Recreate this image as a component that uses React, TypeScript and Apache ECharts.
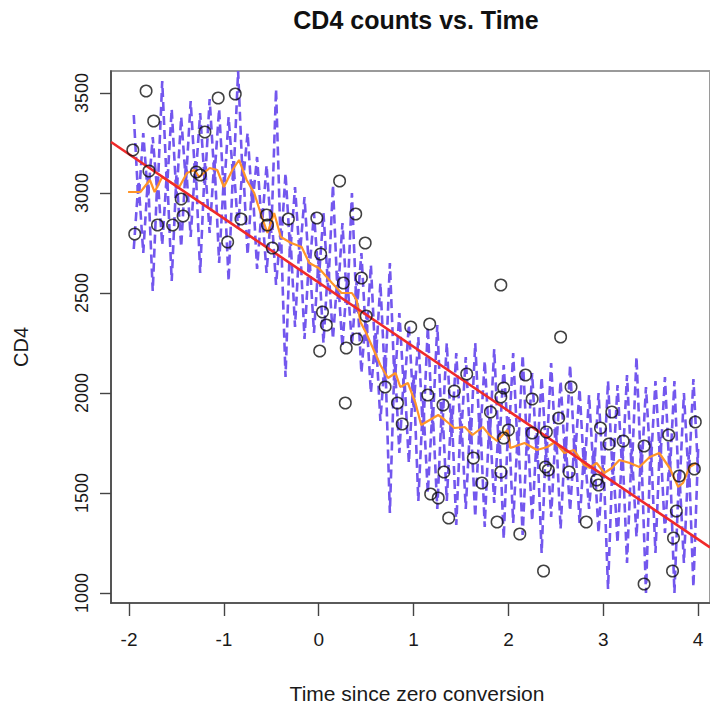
import React, { useEffect, useRef } from "react";
import * as echarts from "echarts";

// Observations: time since zero conversion and CD4 count
const obsTime = [
  -1.96, -1.94, -1.82, -1.74, -1.79, -1.7, -1.54, -1.45, -1.43, -1.29, -1.25, -1.2,
  -1.06, -0.88, -0.96, -0.82, -0.55, -0.54, -0.49, -0.32, -0.02, 0.22, 0.39, 0.49,
  0.02, 0.26, 0.45, 0.04, 0.08, 0.5, 0.4, 0.29, 0.01, 0.97, 1.17, 1.92, 0.28, 0.7,
  0.83, 1.15, 0.88, 1.43, 1.56, 1.31, 1.95, 1.92, 1.81, 1.95, 2.0, 2.55, 2.18, 2.25,
  2.66, 2.53, 3.09, 2.97, 2.25, 2.4, 3.97, 3.69, 3.21, 3.06, 3.43, 1.92, 2.39, 2.42,
  2.64, 2.93, 2.95, 3.8, 3.96, 3.77, 3.74, 1.88, 2.12, 2.82, 2.37, 3.73, 3.43, 1.32,
  1.63, 1.72, 1.18, 1.26, 1.37,
];
const obsCD4 = [
  3215, 2795, 3510, 3360, 3110, 2840, 2840, 2970, 2885, 3105, 3090, 3305,
  3475, 3495, 2755, 2870, 2890, 2840, 2725, 2870, 2875, 3060, 2895, 2750,
  2695, 2550, 2575, 2405, 2340, 2385, 2270, 2225, 2210, 2330, 2345, 2540, 1950, 2030,
  1950, 1990, 1845, 2010, 2095, 1940, 2025, 1980, 1905, 1775, 1815, 2280, 2090, 1970,
  2030, 1875, 1905, 1825, 1800, 1805, 1855, 1790, 1760, 1745, 1735, 1605, 1630, 1615,
  1605, 1565, 1540, 1585, 1620, 1410, 1275, 1355, 1295, 1355, 1110, 1110, 1045, 1605,
  1675, 1550, 1495, 1475, 1375,
];

// Smooth (orange)
const smoothTime = [
  -2.01, -1.88, -1.83, -1.78, -1.73, -1.65, -1.55, -1.47, -1.39, -1.31, -1.26, -1.15,
  -1.07, -1.0, -0.91, -0.84, -0.76, -0.68, -0.6, -0.54, -0.47, -0.4, -0.29, -0.18,
  -0.1, 0.0, 0.14, 0.24, 0.35, 0.4, 0.44, 0.5, 0.58, 0.65, 0.73, 0.81, 0.86, 0.94,
  1.02, 1.08, 1.17, 1.26, 1.33, 1.43, 1.54, 1.62, 1.73, 1.8, 1.88, 1.99, 2.02, 2.17,
  2.3, 2.41, 2.49, 2.59, 2.69, 2.8, 2.86, 2.93, 3.01, 3.09, 3.17, 3.28, 3.38, 3.49,
  3.59, 3.7, 3.79, 3.84, 3.91, 3.98,
];
const smoothCD4 = [
  3005, 3005, 3035, 3065, 3005, 3080, 3050, 3030, 3100, 3115, 3080, 3125,
  3115, 3030, 3115, 3165, 3065, 3000, 2880, 2800, 2900, 2780, 2750, 2730,
  2650, 2625, 2550, 2500, 2500, 2465, 2355, 2300, 2215, 2140, 2075, 2100, 2030, 2050,
  1950, 1840, 1865, 1890, 1865, 1825, 1830, 1790, 1830, 1790, 1760, 1815, 1725, 1750,
  1715, 1730, 1755, 1700, 1715, 1640, 1625, 1650, 1600, 1625, 1665, 1650, 1630, 1680,
  1700, 1625, 1530, 1550, 1630, 1650,
];

// Dashed bands (purple)
const bandTime = [
  -1.95, -1.9, -1.85, -1.8, -1.75, -1.7, -1.65, -1.6, -1.55, -1.5, -1.45, -1.4, -1.35, -1.3, -1.25, -1.2,
  -1.15, -1.1, -1.05, -1.0, -0.95, -0.9, -0.85, -0.8, -0.75, -0.7, -0.65, -0.6, -0.55, -0.5, -0.45, -0.4,
  -0.35, -0.3, -0.25, -0.2, -0.15, -0.1, -0.05, 0.0, 0.05, 0.1, 0.15, 0.2, 0.25, 0.3, 0.35, 0.4,
  0.45, 0.5, 0.55, 0.6, 0.65, 0.7, 0.75, 0.8, 0.85, 0.9, 0.95, 1.0, 1.05, 1.1, 1.15, 1.2,
  1.25, 1.3, 1.35, 1.4, 1.45, 1.5, 1.55, 1.6, 1.65, 1.7, 1.75, 1.8, 1.85, 1.9, 1.95, 2.0,
  2.05, 2.1, 2.15, 2.2, 2.25, 2.3, 2.35, 2.4, 2.45, 2.5, 2.55, 2.6, 2.65, 2.7, 2.75, 2.8,
  2.85, 2.9, 2.95, 3.0, 3.05, 3.1, 3.15, 3.2, 3.25, 3.3, 3.35, 3.4, 3.45, 3.5, 3.55, 3.6,
  3.65, 3.7, 3.75, 3.8, 3.85, 3.9, 3.95, 4.0,
];
const upperBand = [
  3390, 2950, 3300, 2980, 3280, 2990, 3560, 3020, 3420, 2980, 3380, 3050, 3460, 3060, 3400, 3040,
  3470, 3080, 3420, 2990, 3380, 3060, 3610, 3050, 3300, 2940, 3180, 2830, 3140, 2800, 3520, 2720,
  3100, 2700, 3030, 2680, 2980, 2600, 2900, 2560, 2900, 2520, 3040, 2470, 2850, 2440, 3000, 2400,
  2700, 2260, 2640, 2150, 2550, 2050, 2650, 2040, 2400, 2000, 2340, 1920, 2280, 1790, 2330, 1820,
  2340, 1800, 2250, 1780, 2200, 1770, 2180, 1740, 2250, 1760, 2160, 1740, 2220, 1700, 2140, 1750,
  2200, 1690, 2190, 1700, 2100, 1660, 2080, 1680, 2150, 1700, 2060, 1650, 2140, 1660, 2020, 1590,
  1990, 1580, 2000, 1560, 2060, 1580, 2040, 1610, 2090, 1600, 2180, 1590, 2030, 1630, 2060, 1650,
  2080, 1580, 2060, 1480, 2000, 1570, 2070, 1600,
];
const lowerBand = [
  2720, 3060, 2700, 3080, 2510, 3090, 2740, 3110, 2560, 3090, 2730, 3150, 2780, 3160, 2600, 3150,
  2800, 3170, 2650, 3080, 2560, 3160, 2820, 3160, 2690, 3060, 2620, 2930, 2600, 2920, 2540, 2830,
  2080, 2800, 2330, 2780, 2270, 2700, 2300, 2680, 2250, 2650, 2270, 2600, 2230, 2580, 2240, 2560,
  2100, 2400, 2000, 2300, 1860, 2190, 1400, 2170, 1700, 2110, 1650, 2090, 1460, 1960, 1500, 1930,
  1420, 1960, 1460, 1930, 1340, 1900, 1420, 1880, 1380, 1900, 1330, 1880, 1450, 1860, 1270, 1880,
  1350, 1820, 1290, 1830, 1360, 1800, 1200, 1800, 1380, 1830, 1320, 1780, 1410, 1790, 1350, 1730,
  1420, 1720, 1300, 1680, 1020, 1700, 1250, 1740, 1150, 1720, 1280, 1720, 1000, 1760, 1200, 1780,
  1300, 1700, 1000, 1620, 1150, 1690, 1030, 1720,
];

// Linear fit (red), end points
const fitTime = [-2.19, 4.125];
const fitCD4 = [3255, 1228];

const xTicks = [-2, -1, 0, 1, 2, 3, 4];
const yTicks = [1000, 1500, 2000, 2500, 3000, 3500];

const FONT = "'Liberation Sans', Arial, Helvetica, sans-serif";

export default function App() {
  const ref = useRef<HTMLDivElement>(null);
  useEffect(() => {
    if (!ref.current) return;
    const chart = echarts.init(ref.current, undefined, { renderer: "svg" });
    const zip = (xs: number[], ys: number[]) => xs.map((x, i) => [x, ys[i]]);
    const dashed = {
      color: "#7357ee",
      width: 2.6,
      type: [9, 5] as number[],
    };
    chart.setOption({
      animation: false,
      backgroundColor: "#ffffff",
      textStyle: { fontFamily: FONT },
      grid: {
        left: 111,
        top: 71,
        right: -4,
        bottom: 103,
        show: true,
        borderColor: "#9a9a9a",
        borderWidth: 2,
        backgroundColor: "transparent",
      },
      xAxis: {
        type: "value",
        min: -2.19,
        max: 4.125,
        splitLine: { show: false },
        axisLine: { show: true, onZero: false, lineStyle: { color: "#444", width: 1.6 } },
        axisTick: {
          show: true,
          length: 13,
          customValues: xTicks,
          lineStyle: { color: "#444", width: 1.4 },
        },
        axisLabel: {
          customValues: xTicks,
          fontSize: 19,
          color: "#1a1a1a",
          margin: 27,
          fontFamily: FONT,
          formatter: (v: number) => String(v),
        },
      },
      yAxis: {
        type: "value",
        min: 950,
        max: 3610,
        splitLine: { show: false },
        axisLine: { show: true, onZero: false, lineStyle: { color: "#444", width: 1.6 } },
        axisTick: {
          show: true,
          length: 11,
          customValues: yTicks,
          lineStyle: { color: "#444", width: 1.4 },
        },
        axisLabel: {
          customValues: yTicks,
          rotate: 90,
          fontSize: 18,
          color: "#1a1a1a",
          margin: 20,
          fontFamily: FONT,
          formatter: (v: number) => String(v),
        },
      },
      graphic: [
        {
          type: "text",
          x: 416,
          y: 20,
          style: {
            text: "CD4 counts vs. Time",
            fontSize: 25,
            fontWeight: "bold",
            fontFamily: FONT,
            fill: "#111",
            align: "center",
            verticalAlign: "middle",
          },
        },
        {
          type: "text",
          x: 417,
          y: 693,
          style: {
            text: "Time since zero conversion",
            fontSize: 21,
            fontFamily: FONT,
            fill: "#1a1a1a",
            align: "center",
            verticalAlign: "middle",
          },
        },
        {
          type: "text",
          x: 21,
          y: 347,
          rotation: Math.PI / 2,
          style: {
            text: "CD4",
            fontSize: 20,
            fontFamily: FONT,
            fill: "#1a1a1a",
            align: "center",
            verticalAlign: "middle",
          },
        },
      ],
      series: [
        {
          name: "upper",
          type: "line",
          data: zip(bandTime, upperBand),
          symbol: "none",
          lineStyle: dashed,
          z: 2,
        },
        {
          name: "lower",
          type: "line",
          data: zip(bandTime, lowerBand),
          symbol: "none",
          lineStyle: dashed,
          z: 2,
        },
        {
          name: "smooth",
          type: "line",
          data: zip(smoothTime, smoothCD4),
          symbol: "none",
          lineStyle: { color: "#ff9428", width: 2.2 },
          z: 3,
        },
        {
          name: "fit",
          type: "line",
          data: zip(fitTime, fitCD4),
          symbol: "none",
          lineStyle: { color: "#f02a2a", width: 2.6 },
          z: 4,
        },
        {
          name: "obs",
          type: "scatter",
          data: zip(obsTime, obsCD4),
          symbol: "circle",
          symbolSize: 11.5,
          itemStyle: { color: "rgba(255,255,255,0)", borderColor: "#111", borderWidth: 1.5 },
          z: 5,
        },
      ],
    });
    return () => chart.dispose();
  }, []);
  return (
    <div
      ref={ref}
      style={{ position: "absolute", left: 0, top: 0, width: 710, height: 706, background: "#fff" }}
    />
  );
}
